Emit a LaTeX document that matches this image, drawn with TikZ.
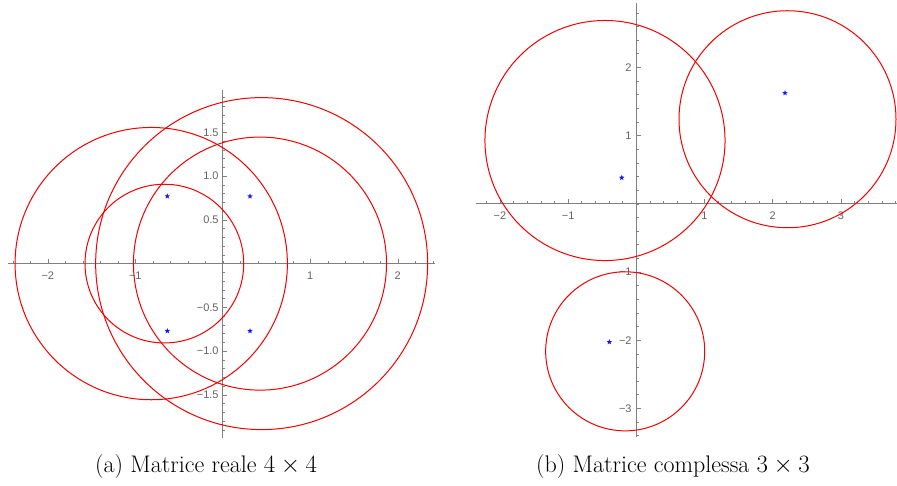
\documentclass[tikz,border=0pt]{standalone}
\usepackage{fontspec}
\newfontfamily\ticksfont{Liberation Sans}
\usetikzlibrary{shapes.geometric}
\definecolor{axisgray}{RGB}{128,128,128}
\definecolor{labgray}{RGB}{100,100,100}
\definecolor{gred}{RGB}{245,0,0}
\definecolor{eigblue}{RGB}{20,20,255}
\begin{document}
\begin{tikzpicture}[x=1pt,y=-1pt,
  axisline/.style={draw=axisgray, line width=0.9pt},
  tickmark/.style={draw=axisgray, line width=0.6pt},
  ticklab/.style={text=labgray, font=\ticksfont\fontsize{11}{13}\selectfont, inner sep=0pt},
  disc/.style={draw=gred, line width=1pt},
  eig/.style={star, star points=5, star point ratio=2.4, fill=eigblue, inner sep=0pt, minimum size=5.8pt},
  capt/.style={font=\fontsize{24}{28}\selectfont, inner sep=0pt, anchor=base west}]
\useasboundingbox (0,0) rectangle (897,485);
\fill[white] (0,0) rectangle (897,485);
% ---------------- left plot ----------------
\coordinate (OA) at (222.8,263.6);
\begin{scope}[shift={(OA)}, x=87.5pt, y=87.5pt]
  \coordinate (axL) at (-2.46,0); \coordinate (axR) at (2.43,0);
  \coordinate (ayB) at (0,-1.995); \coordinate (ayT) at (0,1.985);
  \foreach \i in {-12,...,12} \draw[tickmark] (\i/5,0) -- ++(0,2.6pt);
  \foreach \i in {-19,...,19} \draw[tickmark] (0,\i/10) -- ++(2.6pt,0);
  \foreach \i in {-2,-1,1,2} {
    \draw[tickmark] (\i,0) -- ++(0,4.5pt);
    \node[ticklab, anchor=north] (lax\i) at ([yshift=-8pt]\i,0) {\ifnum\i<0 −\fi\the\numexpr\ifnum\i<0 -\fi\i\relax};
  }
  \foreach \v/\t in {-1.5/−1.5,-1/−1.0,-0.5/−0.5,0.5/0.5,1/1.0,1.5/1.5} {
    \draw[tickmark] (0,\v) -- ++(4.5pt,0);
    \node[ticklab, anchor=east] (lay\t) at ([xshift=-4pt]0,\v) {\t};
  }
  \draw[axisline] (axL) -- (axR);
  \draw[axisline] (ayB) -- (ayT);
  \draw[disc] (-0.818,0) circle[radius=1.556];
  \draw[disc] (0.444,0) circle[radius=1.897];
  \draw[disc] (0.425,0) circle[radius=1.446];
  \draw[disc] (-0.668,0) circle[radius=0.907];
  \node[eig] (ea1) at (-0.634,0.77) {};
  \node[eig] (ea2) at (0.311,0.77) {};
  \node[eig] (ea3) at (-0.634,-0.77) {};
  \node[eig] (ea4) at (0.311,-0.77) {};
\end{scope}
% ---------------- right plot ----------------
\coordinate (OB) at (636.3,203.8);
\begin{scope}[shift={(OB)}, x=68.2pt, y=68.2pt]
  \coordinate (bxL) at (-2.35,0); \coordinate (bxR) at (3.82,0);
  \coordinate (byB) at (0,-3.42); \coordinate (byT) at (0,2.95);
  \foreach \i in {-11,...,19} \draw[tickmark] (\i/5,0) -- ++(0,2.6pt);
  \foreach \i in {-17,...,14} \draw[tickmark] (0,\i/5) -- ++(2.6pt,0);
  \foreach \i in {-2,-1,1,2,3} {
    \draw[tickmark] (\i,0) -- ++(0,4.5pt);
    \node[ticklab, anchor=north] (lbx\i) at ([yshift=-8pt]\i,0) {\ifnum\i<0 −\fi\the\numexpr\ifnum\i<0 -\fi\i\relax};
  }
  \foreach \i in {-3,-2,-1,1,2} {
    \draw[tickmark] (0,\i) -- ++(4.5pt,0);
    \node[ticklab, anchor=east] (lby\i) at ([xshift=-4.5pt]0,\i) {\ifnum\i<0 −\fi\the\numexpr\ifnum\i<0 -\fi\i\relax};
  }
  \draw[axisline] (bxL) -- (bxR);
  \draw[axisline] (byB) -- (byT);
  \draw[disc] (-0.459,0.928) circle[radius=1.76];
  \draw[disc] (2.217,1.240) circle[radius=1.591];
  \draw[disc] (-0.163,-2.163) circle[radius=1.166];
  \node[eig] (eb1) at (-0.214,0.383) {};
  \node[eig] (eb2) at (2.18,1.625) {};
  \node[eig] (eb3) at (-0.396,-2.026) {};
\end{scope}
% ---------------- captions ----------------
\node[capt] (capa) at (95,472) {(a) Matrice reale $4\times4$};
\node[capt] (capb) at (536,472) {(b) Matrice complessa $3\times3$};
\end{tikzpicture}
\end{document}
